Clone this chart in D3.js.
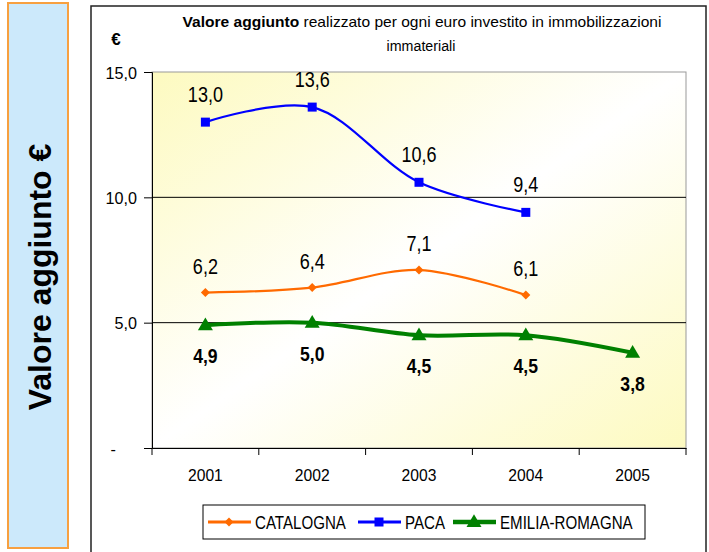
<!DOCTYPE html>
<html>
<head>
<meta charset="utf-8">
<script src="https://cdn.jsdelivr.net/npm/d3@7"></script>
<style>
  body { margin:0; background:#fff; }
  svg text { font-family:"Liberation Sans",Arial,sans-serif; fill:#000; }
</style>
</head>
<body>
<div id="plot"></div>
<script>
// data
var years = ['2001','2002','2003','2004','2005'];
var catalogna = [6.2, 6.4, 7.1, 6.1];
var paca = [13.0, 13.6, 10.6, 9.4];
var emilia = [4.9, 5.0, 4.5, 4.5, 3.8];
var yTicks = [0, 5, 10, 15];
var seriesNames = ['CATALOGNA','PACA','EMILIA-ROMAGNA'];

var W = 709, H = 552;
var m = {t:72, r:23, b:104, l:152},
	width = W - m.l - m.r,
	height = H - m.t - m.b;
var NARROW = 0.84; // no Arial Narrow here, so squeeze Liberation Sans

var svg = d3.select('#plot')
	.append('svg')
	.attr('width',W)
	.attr('height',H);

// narrow text helper
function ntext(parent, x, y, str, size, bold, anchor, sx){
	return parent.append('text')
		.attr('transform','translate('+x+','+y+') scale('+(sx||NARROW)+',1)')
		.attr('text-anchor',anchor||'middle')
		.style('font-size',size+'px')
		.style('font-weight',bold?'bold':'normal')
		.text(str);
}

// gradient for the plot area
var defs = svg.append('defs');
var grad = defs.append('linearGradient').attr('id','bg')
	.attr('x1','0').attr('y1','0').attr('x2','1').attr('y2','1');
grad.append('stop').attr('offset','0%').attr('stop-color','#fdfac0');
grad.append('stop').attr('offset','50%').attr('stop-color','#ffffff');
grad.append('stop').attr('offset','100%').attr('stop-color','#fdfac0');

// left side panel
svg.append('rect')
	.attr('x',8).attr('y',3).attr('width',60).attr('height',545)
	.style('fill','#cce9fb').style('stroke','#f7a040').style('stroke-width',2);
svg.append('text')
	.attr('transform','translate(51,277) rotate(-90)')
	.attr('text-anchor','middle')
	.style('font-weight','bold').style('font-size','32px')
	.text('Valore aggiunto €');

// chart frame
svg.append('rect')
	.attr('x',91).attr('y',6).attr('width',615).attr('height',560)
	.style('fill','#fff').style('stroke','#222').style('stroke-width',1.5);

var x = d3.scaleBand().domain(years).range([0,width]);
var y = d3.scaleLinear().domain([0,15]).range([height,0]);

var plot = svg.append('g')
	.attr('transform','translate('+m.l+','+m.t+')');

plot.append('rect')
	.attr('width',width).attr('height',height)
	.style('fill','url(#bg)').style('stroke','#999').style('stroke-width',1);

// gridlines
plot.selectAll('.grid').data([5,10]).enter().append('line')
	.attr('x1',0).attr('x2',width)
	.attr('y1',function(d){return y(d);}).attr('y2',function(d){return y(d);})
	.style('stroke','#000').style('stroke-width',1);

var fmt = function(v){ return d3.format('.1f')(v).replace('.',','); };

// axes
var yAxis = d3.axisLeft(y).tickValues(yTicks).tickSize(8).tickPadding(5)
	.tickFormat(function(d){ return d===0 ? '-' : fmt(d); });
var gy = plot.append('g').call(yAxis);
gy.select('.domain').style('stroke','#000');
gy.selectAll('.tick line').style('stroke','#000');
gy.selectAll('.tick text')
	.attr('x',0).attr('dy',null)
	.attr('transform',function(d){ return 'translate('+(d===0?-36:-15)+',6) scale(0.95,1)'; })
	.style('font-size','17px');

var xAxis = d3.axisBottom(x).tickSize(0).tickPadding(20);
var gx = plot.append('g').attr('transform','translate(0,'+height+')').call(xAxis);
gx.select('.domain').style('stroke','#000');
gx.selectAll('.tick text').attr('y',0).attr('dy',null)
	.attr('transform','translate(0,33) scale(0.95,1)')
	.style('font-size','16.5px');
gx.selectAll('.bnd').data(d3.range(years.length+1)).enter().append('line')
	.attr('x1',function(i){return i*x.bandwidth();}).attr('x2',function(i){return i*x.bandwidth();})
	.attr('y1',0).attr('y2',7).style('stroke','#000');

// title
var title = svg.append('text').attr('x',422).attr('y',27)
	.attr('text-anchor','middle').style('font-size','15px')
	.attr('textLength',479).attr('lengthAdjust','spacingAndGlyphs');
title.append('tspan').style('font-weight','bold').text('Valore aggiunto');
title.append('tspan').text(' realizzato per ogni euro investito in immobilizzazioni');
ntext(svg, 421, 51, 'immateriali', 15, false, 'middle', 0.95);
ntext(svg, 116, 45, '€', 17, true, 'middle', 1);

var cx = function(d,i){ return x(years[i]) + x.bandwidth()/2; };

var line = d3.line()
	.x(function(d,i){ return cx(d,i); })
	.y(function(d){ return y(d); })
	.curve(d3.curveCatmullRom.alpha(0.5));

var series = [
	{name:seriesNames[0], values:catalogna, color:'#ff6a00', w:2.2, marker:'diamond', size:7, dy:-19, bold:false},
	{name:seriesNames[1], values:paca, color:'#0000ff', w:2.2, marker:'square', size:9, dy:-20, bold:false},
	{name:seriesNames[2], values:emilia, color:'#008000', w:4, marker:'triangle', size:15, dy:38, bold:true}
];

function drawMarker(g, type, size, color){
	if(type==='diamond'){
		var s = size/2+1;
		g.append('path').attr('d','M0,'+(-s)+'L'+s+',0L0,'+s+'L'+(-s)+',0Z').style('fill',color);
	} else if(type==='square'){
		g.append('rect').attr('x',-size/2).attr('y',-size/2).attr('width',size).attr('height',size).style('fill',color);
	} else {
		var h = size*0.85;
		g.append('path').attr('d','M0,'+(-h*0.6)+'L'+(size/2)+','+(h*0.4)+'L'+(-size/2)+','+(h*0.4)+'Z').style('fill',color);
	}
}

series.forEach(function(s){
	plot.append('path').datum(s.values)
		.attr('d',line)
		.style('fill','none').style('stroke',s.color).style('stroke-width',s.w);
	s.values.forEach(function(v,i){
		var g = plot.append('g').attr('transform','translate('+cx(v,i)+','+y(v)+')');
		drawMarker(g, s.marker, s.size, s.color);
		ntext(plot, cx(v,i), y(v)+s.dy, fmt(v), s.bold ? 20 : 22, s.bold, 'middle', s.bold ? 0.88 : 0.82);
	});
});

// legend
var leg = svg.append('g').attr('transform','translate(203,505)');
leg.append('rect').attr('width',442).attr('height',34)
	.style('fill','#fff').style('stroke','#000').style('stroke-width',1);
var legX = [5, 155, 250];
series.forEach(function(s,i){
	var g = leg.append('g').attr('transform','translate('+legX[i]+',17)');
	g.append('line').attr('x1',0).attr('x2',43).style('stroke',s.color).style('stroke-width',s.w+0.6);
	var mg = g.append('g').attr('transform','translate(21,0)');
	drawMarker(mg, s.marker, s.size, s.color);
	ntext(g, 47, 7, s.name, 18, false, 'start');
});
</script>
</body>
</html>
